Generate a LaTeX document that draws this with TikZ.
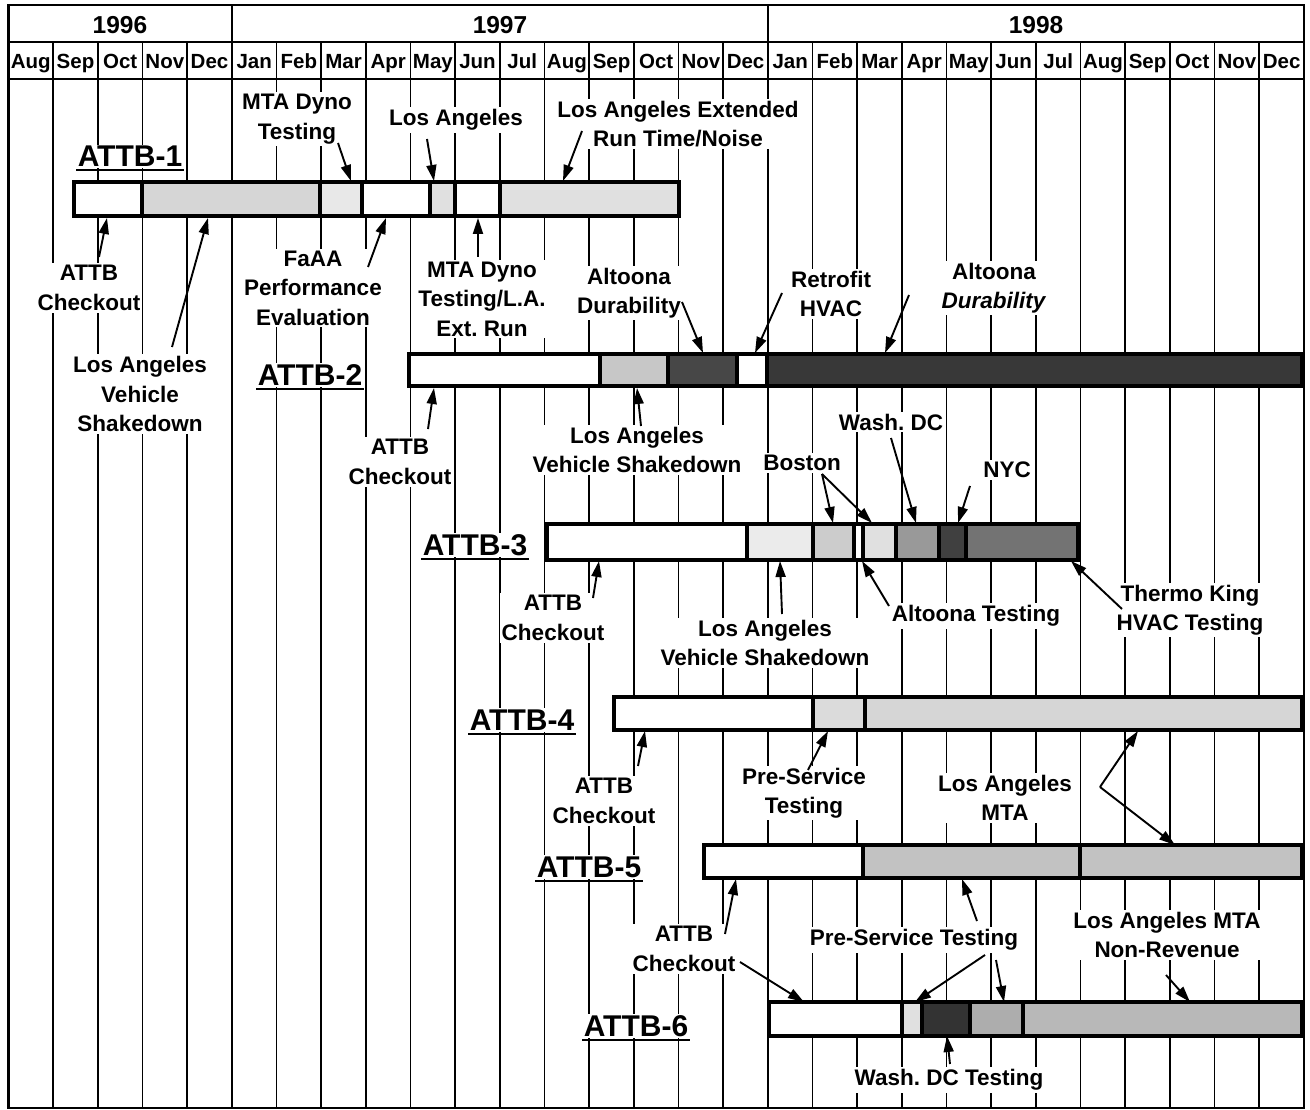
\documentclass[tikz,border=0pt]{standalone}
\usepackage{fontspec}
\setmainfont{Liberation Sans}
\usetikzlibrary{arrows.meta}
\frenchspacing
\begin{document}
\begin{tikzpicture}[x=1pt,y=-1pt,
  lbl/.style={font=\fontsize{22.5}{29.5}\selectfont\bfseries, align=center, fill=white, inner sep=2pt},
  hd/.style={font=\fontsize{30}{30}\selectfont\bfseries, fill=white, inner sep=1.5pt, anchor=base},
  mon/.style={font=\fontsize{20.5}{20.5}\selectfont\bfseries, inner sep=0pt, anchor=base},
  yr/.style={font=\fontsize{24.5}{24.5}\selectfont\bfseries, inner sep=0pt, anchor=base},
  arr/.style={line width=1.9pt, -{Triangle[length=16pt,width=10pt]}},
  grid/.style={line width=1.6pt},
  thickgrid/.style={line width=2.6pt},
  barline/.style={line width=4.5pt},
  segline/.style={line width=3.5pt},
  uline/.style={line width=2pt},
]
\useasboundingbox (0,0) rectangle (1310,1110);
\fill[white] (0,0) rectangle (1310,1110);

% ---------- grid ----------
\foreach \i in {1,...,28} \draw[grid] ({8.5+44.67*\i},42) -- ({8.5+44.67*\i},1108);
\foreach \i in {5,17} \draw[thickgrid] ({8.5+44.67*\i},5) -- ({8.5+44.67*\i},1108);
\draw[line width=2.2pt] (8.5,42) -- (1303.9,42);
\draw[line width=2.2pt] (8.5,79) -- (1303.9,79);
\draw[line width=2.8pt] (8.5,5) rectangle (1303.9,1108);

% ---------- header ----------
\node[yr] (y96) at (120,34) {1996};
\node[yr] (y97) at (500,34) {1997};
\node[yr] (y98) at (1036,34) {1998};
\foreach \m [count=\i from 0] in {Aug,Sep,Oct,Nov,Dec,Jan,Feb,Mar,Apr,May,Jun,Jul,Aug,Sep,Oct,Nov,Dec,Jan,Feb,Mar,Apr,May,Jun,Jul,Aug,Sep,Oct,Nov,Dec}
  \node[mon] (m\i) at ({8.5+44.67*(\i+0.5)},68.5) {\m};

% ---------- headings ----------
\node[hd] (H1) at (130,167) {ATTB-1};
\node[hd] (H2) at (310,385) {ATTB-2};
\node[hd] (H3) at (475,555) {ATTB-3};
\node[hd] (H4) at (522,730) {ATTB-4};
\node[hd] (H5) at (589,877) {ATTB-5};
\node[hd] (H6) at (636,1036) {ATTB-6};
\foreach \h in {H1,H2,H3,H4,H5,H6}
  \draw[uline] ([yshift=-3.5pt]\h.base west) -- ([yshift=-3.5pt]\h.base east);

% ---------- labels ----------
\node[lbl] (L1a) at (297,119) {MTA Dyno\\Testing};
\node[lbl] (L1b) at (456,120) {Los Angeles};
\node[lbl] (L1c) at (678,124) {Los Angeles Extended\\Run Time/Noise};
\node[lbl] (L1d) at (89,288) {ATTB\\Checkout};
\node[lbl] (L1e) at (140,394) {Los Angeles\\Vehicle\\Shakedown};
\node[lbl] (L1f) at (313,288) {FaAA\\Performance\\Evaluation};
\node[lbl] (L1g) at (482,299) {MTA Dyno\\Testing/L.A.\\Ext. Run};
\node[lbl] (L2a) at (629,293) {Altoona\\Durability};
\node[lbl] (L2b) at (831,294) {Retrofit\\HVAC};
\node[lbl] (L2c) at (994,288) {Altoona\\\textit{Durability}};
\node[lbl] (L2d) at (400,462) {ATTB\\Checkout};
\node[lbl] (L2e) at (637,450) {Los Angeles\\Vehicle Shakedown};
\node[lbl] (L3a) at (802,463) {Boston};
\node[lbl] (L3b) at (891,422) {Wash. DC};
\node[lbl] (L3c) at (1007,470) {NYC};
\node[lbl] (L3d) at (976,616) {Altoona Testing};
\node[lbl] (L3e) at (1190,610) {Thermo King\\HVAC Testing};
\node[lbl] (L3f) at (553,618) {ATTB\\Checkout};
\node[lbl] (L3g) at (765,643) {Los Angeles\\Vehicle Shakedown};
\node[lbl] (L4a) at (604,801) {ATTB\\Checkout};
\node[lbl] (L4b) at (804,793) {Pre-Service\\Testing};
\node[lbl] (L4c) at (1005,798) {Los Angeles\\MTA};
\node[lbl] (L5a) at (684,949) {ATTB\\Checkout};
\node[lbl] (L5b) at (914,940) {Pre-Service Testing};
\node[lbl] (L5c) at (1167,935) {Los Angeles MTA\\Non-Revenue};
\node[lbl] (L6a) at (949,1080) {Wash. DC Testing};

% ---------- bars ----------
% ATTB-1
\foreach \a/\b/\c in {74/142/white,142/320/black!16,320/362/black!9,362/430/white,430/455/black!12,455/500/white,500/679/black!12}
  \fill[\c] (\a,182) rectangle (\b,216);
\foreach \d in {142,320,362,430,455,500} \draw[segline] (\d,182) -- (\d,216);
\draw[barline] (74,182) rectangle (679,216);
% ATTB-2
\foreach \a/\b/\c in {409/600/white,600/668/black!22,668/737/black!72,737/767/white,767/1302/black!78}
  \fill[\c] (\a,354) rectangle (\b,386);
\foreach \d in {600,668,737,767} \draw[segline] (\d,354) -- (\d,386);
\draw[barline] (409,354) rectangle (1302,386);
% ATTB-3
\foreach \a/\b/\c in {547/747/white,747/813/black!8,813/854/black!20,854/863/white,863/896/black!12,896/939/black!40,939/966/black!75,966/1078/black!55}
  \fill[\c] (\a,524) rectangle (\b,560);
\foreach \d in {747,813,854,863,896,939,966} \draw[segline] (\d,524) -- (\d,560);
\draw[barline] (547,524) rectangle (1078,560);
% ATTB-4
\foreach \a/\b/\c in {614/813/white,813/865/black!14,865/1302/black!16}
  \fill[\c] (\a,697) rectangle (\b,730);
\foreach \d in {813,865} \draw[segline] (\d,697) -- (\d,730);
\draw[barline] (614,697) rectangle (1302,730);
% ATTB-5
\foreach \a/\b/\c in {704/863/white,863/1080/black!24,1080/1302/black!24}
  \fill[\c] (\a,845) rectangle (\b,878);
\foreach \d in {863,1080} \draw[segline] (\d,845) -- (\d,878);
\draw[barline] (704,845) rectangle (1302,878);
% ATTB-6
\foreach \a/\b/\c in {769/902/white,902/922/black!12,922/970/black!80,970/1023/black!32,1023/1302/black!28}
  \fill[\c] (\a,1002) rectangle (\b,1036);
\foreach \d in {902,922,970,1023} \draw[segline] (\d,1002) -- (\d,1036);
\draw[barline] (769,1002) rectangle (1302,1036);

% ---------- arrow end points ----------
\coordinate (t1a) at (338,143);  \coordinate (h1a) at (351,181);
\coordinate (t1b) at (427,139);  \coordinate (h1b) at (434,181);
\coordinate (t1c) at (582,131);  \coordinate (h1c) at (563,181);
\coordinate (t1d) at (99,257);   \coordinate (h1d) at (107,218);
\coordinate (t1e) at (172,347);  \coordinate (h1e) at (208,218);
\coordinate (t1f) at (368,267);  \coordinate (h1f) at (386,218);
\coordinate (t1g) at (478,257);  \coordinate (h1g) at (478,218);
\coordinate (t2a) at (682,302);  \coordinate (h2a) at (703,353);
\coordinate (t2b) at (782,293);  \coordinate (h2b) at (755,353);
\coordinate (t2c) at (909,295);  \coordinate (h2c) at (885,353);
\coordinate (t2d) at (428,429);  \coordinate (h2d) at (434,388);
\coordinate (t2e) at (641,426);  \coordinate (h2e) at (637,388);
\coordinate (t3a) at (822,474);  \coordinate (h3a) at (833,523);  \coordinate (h3b) at (872,523);
\coordinate (t3c) at (891,438);  \coordinate (h3c) at (916,523);
\coordinate (t3d) at (970,486);  \coordinate (h3d) at (958,523);
\coordinate (t3e) at (889,606);  \coordinate (h3e) at (862,561);
\coordinate (t3f) at (1122,609); \coordinate (h3f) at (1071,561);
\coordinate (t3g) at (593,598);  \coordinate (h3g) at (599,561);
\coordinate (t3h) at (782,614);  \coordinate (h3h) at (780,561);
\coordinate (t4a) at (638,766);  \coordinate (h4a) at (645,731);
\coordinate (t4b) at (808,770);  \coordinate (h4b) at (828,731);
\coordinate (t4c) at (1100,787); \coordinate (h4c) at (1138,731); \coordinate (h4d) at (1175,845);
\coordinate (t5a) at (725,934);  \coordinate (h5a) at (736,879);
\coordinate (t5b) at (740,962);  \coordinate (h5b) at (804,1002);
\coordinate (t5c) at (977,921);  \coordinate (h5c) at (962,879);
\coordinate (t5d) at (985,955);  \coordinate (h5d) at (915,1002);
\coordinate (t5e) at (996,960);  \coordinate (h5e) at (1004,1002);
\coordinate (t5f) at (1166,975); \coordinate (h5f) at (1190,1002);
\coordinate (t6a) at (950,1064); \coordinate (h6a) at (947,1036);

% ---------- arrows ----------
\foreach \t/\h in {t1a/h1a,t1b/h1b,t1c/h1c,t1d/h1d,t1e/h1e,t1f/h1f,t1g/h1g,
  t2a/h2a,t2b/h2b,t2c/h2c,t2d/h2d,t2e/h2e,
  t3a/h3a,t3a/h3b,t3c/h3c,t3d/h3d,t3e/h3e,t3f/h3f,t3g/h3g,t3h/h3h,
  t4a/h4a,t4b/h4b,t4c/h4c,t4c/h4d,
  t5a/h5a,t5b/h5b,t5c/h5c,t5d/h5d,t5e/h5e,t5f/h5f,t6a/h6a}
  \draw[arr] (\t) -- (\h);
\end{tikzpicture}
\end{document}
